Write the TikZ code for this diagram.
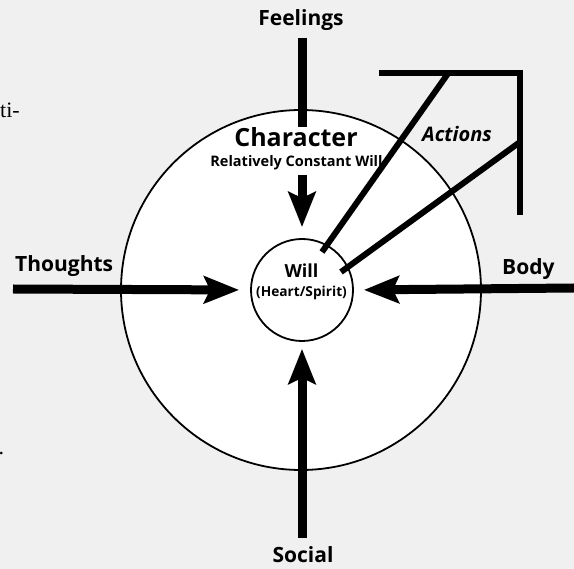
\documentclass[tikz,border=0pt]{standalone}
\usepackage{fontspec}
\setmainfont{Liberation Serif}
\newfontfamily\labelfont{Open Sans}
\usetikzlibrary{arrows.meta}
\definecolor{pagebg}{HTML}{F0F0F0}
\begin{document}
\begin{tikzpicture}[x=1pt,y=-1pt,
  lbl/.style={font=\labelfont\bfseries\fontsize{21}{23}\selectfont, inner sep=0pt},
  bar/.style={line width=9pt},
  push/.style={bar, -{Stealth[length=35pt,width=27pt,inset=6pt]}},
  actline/.style={line width=6pt},
  ring/.style={circle, draw, fill=white, inner sep=0pt}
]
% page
\fill[pagebg] (0,0) rectangle (574,569);
\useasboundingbox (0,0) rectangle (574,569);

% fragments of surrounding body text
\node[anchor=base east, inner sep=0pt, font=\fontsize{22}{24}\selectfont] (frag1) at (20,118) {ti-};
\node[anchor=base west, inner sep=0pt, font=\fontsize{22}{24}\selectfont] (frag2) at (-1.5,455) {.};

% character circle
\node[ring, line width=1.8pt, minimum size=360pt] (character) at (301,290) {};

% outer labels
\node[lbl, anchor=base] (feel) at (301,26) {Feelings};
\node[lbl, anchor=base west] (thought) at (15,272) {Thoughts};
\node[lbl, anchor=base west] (body) at (502,275) {Body};
\node[lbl, anchor=base] (social) at (303,563) {Social};

% character title
\node[anchor=base, inner sep=0pt, font=\labelfont\bfseries\fontsize{25}{27}\selectfont] (chartitle) at (296,147) {Character};
\node[anchor=base, inner sep=0pt, font=\labelfont\bfseries\fontsize{14.5}{16}\selectfont] (charsub) at (296.5,167) {Relatively Constant Will};

% will circle
\node[ring, line width=1.8pt, minimum size=102pt] (will) at (302,290) {};

% connector end points
\coordinate (feelBot) at (302,38);
\coordinate (charTop) at (302,127);
\coordinate (charLow) at (302,175);
\coordinate (thoughtStart) at (13,289);
\coordinate (bodyStart) at (574,288);
\coordinate (socialStart) at (302,538);

% influences acting on the will
\draw[bar] (feelBot) -- (charTop);
\draw[push, shorten >=11pt] (charLow) -- (will.north);
\draw[push, shorten >=11pt] (thoughtStart) -- (will.west);
\draw[push, shorten >=10pt] (bodyStart) -- (will.east);
\draw[push, shorten >=7pt] (socialStart) -- (will.south);

% actions bracket and its two strokes
\coordinate (brL) at (379,73.5);
\coordinate (brC) at (520,73.5);
\coordinate (brB) at (520,215);
\coordinate (act1) at (448,73.5);
\coordinate (act2) at (520,142);
\coordinate (act1end) at (322,252);
\coordinate (act2end) at (341,272);
\draw[actline] (brL) -- (brC) -- (brB);
\draw[actline] (act1) -- (act1end);
\draw[actline] (act2) -- (act2end);
\node[anchor=base west, inner sep=0pt, font=\labelfont\bfseries\itshape\fontsize{20}{22}\selectfont] (actions) at (422,142) {Actions};

% will labels
\node[anchor=base, inner sep=0pt, font=\labelfont\bfseries\fontsize{18}{20}\selectfont] (willtxt) at (301.5,278) {Will};
\node[anchor=base, inner sep=0pt, font=\labelfont\bfseries\fontsize{13.7}{15}\selectfont] (heart) at (301.5,297) {(Heart/Spirit)};
\end{tikzpicture}
\end{document}
